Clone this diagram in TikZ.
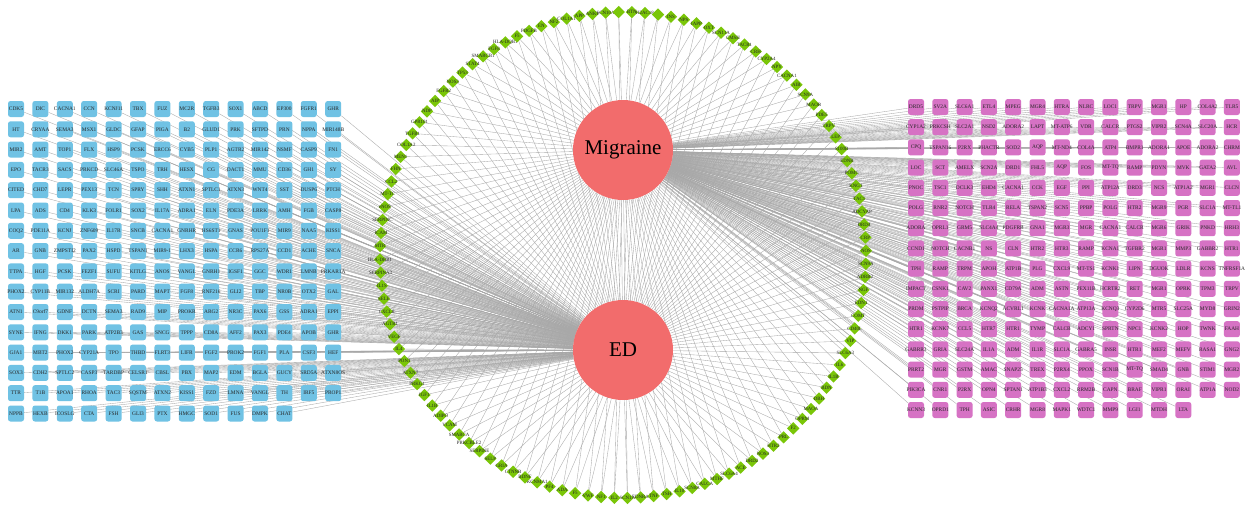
\documentclass[tikz,border=0pt]{standalone}
\usepackage{fontspec}
\setmainfont{Liberation Serif}
\usetikzlibrary{shapes.geometric}
\definecolor{edblue}{RGB}{112,194,228}
\definecolor{migpink}{RGB}{214,114,196}
\definecolor{shgreen}{RGB}{122,198,8}
\definecolor{hubred}{RGB}{242,108,108}
\definecolor{linkgray}{RGB}{168,168,168}
\pgfdeclarelayer{back}
\pgfsetlayers{back,main}
\tikzset{
  gene/.style={rectangle, rounded corners=2.5pt, minimum size=16pt, inner sep=0pt},
  genetxt/.style={font=\fontsize{5.4}{6}\selectfont, text=black!85, inner sep=0pt},
  ringtxt/.style={font=\fontsize{4.9}{5.5}\selectfont, text=black!85, inner sep=0pt},
  shared/.style={diamond, fill=shgreen, minimum size=12.5pt, inner sep=0pt},
  hub/.style={circle, fill=hubred, minimum size=100pt, inner sep=0pt, font=\fontsize{21}{24}\selectfont},
  link/.style={linkgray, line width=0.35pt}
}
\begin{document}
\begin{tikzpicture}[x=1pt, y=-1pt]
  \useasboundingbox (0,0) rectangle (1252,506);
  % the two diseases
  \node[hub] (mig) at (623,150) {Migraine};
  \node[hub] (ed) at (623,350) {ED};
  % ED genes, left block
  \foreach \g [count=\k from 0] in {CDK5,DIC,CACNA1,CCN,KCNJ11,TBX,FUZ,MC2R,TGFB3,SOX1,ABCD,EP300,FGFR1,GHR,
      HT,CRYAA,SEMA3,MSX1,GLDC,GFAP,PIGA,B2,GLUD1,PRK,SFTPD,PRN,NPPA,MIR148B,
      MIR2,AMT,TOP1,FLX,HSP9,PCSK,ERCC6,CYB5,PLP1,AGTR2,MIR142,NSMF,CASP9,FN1,
      EPO,TACR3,SACS,PRKCD,SLC46A,TSPO,TRH,HESX,CG,DACT1,MMU,CD36,GH1,SY,
      CITED,CHD7,LEPR,PEX13,TCN,SPRY,SHH,ATXN1,SPTLC1,ATXN3,WNT4,SST,DUSP6,PTCH,
      LPA,ADS,CD4,KLK3,FOLR1,SOX2,IL17A,ADRA1,ELN,PDE3A,LRRK,AMH,FGB,CASP8,
      COQ2,PDE11A,KCNJ,ZNF609,IL17R,SNCB,CACNA1,GNRHR,HS6ST1,GNAS,POU1F1,MIR9,NAA5,KISS1,
      AR,GNB,ZMPSTI2,PAX2,HSPD,TSPAN1,MIR9-1,LHX3,HSPA,CCR6,RPS27A,CCD1,ACHE,SNCA,
      TTPA,HGF,PCSK,FEZF1,SUFU,KITLG,ANOS,VANGL,GNRH1,IGSF1,GGC,WDR1,LMNB,PRKAR1A,
      PHOX2,CYP11B,MIR132,ALDH7A,SCRI,PARD,MAPT,FGF8,RNF216,GLI2,TBP,NR0B,OTX2,GAL,
      ATN1,C9orf7,GDNF,DCTN,SEMA3,RAD9,MIP,PROKR,ARG2,NR3C,PAX6,GSS,ADRA1,EPPI,
      SYNE,IFNG,DKK1,PARK,ATP2B3,GAS,SNCG,TPPP,CD8A,AFF2,PAX3,PDE4,APOB,GHR,
      GJA1,MBT2,PHOX2,CYP21A,TPO,THBD,FLRT3,LIFR,FGF2,PROK2,FGF1,PLA,CSF3,HEF,
      SOX3,CDH2,SPTLC2,CASP3,TARDBP,CELSR1,CBSL,PBX,MAP2,EDM,BGLA,GUCY,SRD5A,ATXN8OS,
      TTR,T1B,APOA1,RHOA,TAC3,SQSTM,ATXN2,KISS1,FZD,LMNA,VANGL,TH,IRF5,PROP1,
      NPPB,HEXB,ICOSLG,CTA,FSH,GLI3,PTX,HMGC,SOD1,FUS,DMPK,CHAT} {
    \pgfmathtruncatemacro{\c}{mod(\k,14)}
    \pgfmathtruncatemacro{\r}{\k/14}
    \node[gene, fill=edblue, label={[genetxt]center:\g}] (lft\k) at ({16+24.4*\c},{109+20.3*\r}) {};
  }
  % Migraine genes, right block
  \foreach \g [count=\k from 0] in {DRD5,SV2A,SLC6A1,ETL4,MPEG,MGR4,HTRA,NLRC,LOC1,TRPV,MGR1,HP,COL4A2,TLR5,
      CYP1A2,PRKCSH,SLC2A1,NSD2,ADORA2,LAPT,MT-ATP6,VDR,CALCR,PTGS2,VIPR2,SCN4A,SLC20A,HCR,
      CPQ,TSPAN16,P2RX,PHACTR,SOD2,AQP,MT-ND4,COL4A,ATP4,BMPR1,ADORA1,APOE,ADORA2,CHRM,
      LOC,SCT,AMELX,SCN2A,DRD1,FHL5,AQP,FOS,MT-TQ,RAMP,PDYN,MVK,GATA2,AVL,
      PNOC,TSC1,DCLK3,EHD4,CACNA1,CCK,EGF,PPI,ATP12A,DRD3,NCS,ATP1A2,MGR1,CLCN,
      POLG,RNR2,NOTCH,TLR4,RELA,TSPAN2,SCN5,PPBP,POLG,HTR2,MGR9,PGR,SLC1A,MT-TL1,
      ADORA,OPRL1,GRM5,SLC4A4,PDGFRB,GNA1,MGR3,MGR,CACNA1,CALCR,MGR6,GRIK,PNKD,HRH3,
      CCND1,NOTCH,CACNB1,NS,CLN,HTR2,HTR3,RAMP,KCNA1,TGFBR2,MGR1,MMP3,GABBR2,HTR1,
      TPH,RAMP,TRPM,APOH,ATP1B,PLG,CXCL9,MT-TS1,KCNK1,LIPN,DGUOK,LDLR,KCNS,TNFRSF1A,
      IMPACT,CSNK1,CAV2,PANX1,CD79A,ADM,ASTN,PEX11B,HCRTR2,RET,MGR1,OPRK,TPM3,TRPV,
      PRDM,PSTPIP,BRCA,KCNQ2,ACVRL1,KCNK,CACNA1A,ATP13A,KCNQ3,CYP2D6,MTR5,SLC25A,MYD8,GRIN2,
      HTR1,KCNK7,CCL5,HTR7,HTR1,TYMP,CALCB,ADCY1,SPRTN,NPC1,KCNK2,HOP,TWNK,FAAH,
      GABRR3,GRIA,SLC24A,IL1A,ADM,IL1R,SLC1A,GABRA5,INSR,HTR1,MEF2,MEFV,RASA1,GNG2,
      PRRT2,MGR,GSTM,AMAC,SNAP25,TREX,P2RX4,PPOX,SCN1B,MT-TQ,SMAD4,GNB,STIM1,MGR2,
      PIK3CA,CNR1,P2RX,OPN4,SPTAN1,ATP1B3,CXCL2,RRM2B,CAPN,BRAF,VIPR1,ORAI,ATP1A,NOD2,
      KCNN3,OPRD1,TPH,ASIC,CRHR,MGR8,MAPK1,WDTC1,MMP9,LGI1,MTDH,LTA} {
    \pgfmathtruncatemacro{\c}{mod(\k,14)}
    \pgfmathtruncatemacro{\r}{\k/14}
    \node[gene, fill=migpink, label={[genetxt]center:\g}] (rgt\k) at ({916+24.3*\c},{107+20.2*\r}) {};
  }
  % shared genes on the ring, clockwise from the left
  \foreach \g [count=\k from 0] in {MTR,ICAM,SERPINC,eNOS,MT-TC,CCL2,FHN,MEN1,COL1A2,TGFB1,GPR101,NDP,AIP,FGFR2,
      NOS3,TP53,STAT4,SMARCB1,FGF8,HLA-DQB1,F5,PDGFB,EN,NF2,COL1A1,APP,ANK1,SCN10A,{},BTN,H2AC18,{},
      INS,NPS,IAPP,OXT,SCN11A,CMSH,TACR1,CRH,CYP2A4,NPY,CACNA1,AIB,SCN9A,MAOB,PDE5,TRPV,LEP,S100B,
      EDNR,POMC,KNG1,TAC1,ADCYAP,DRD4,CRP,NOS,SCN9A,ADRB2,NGF,EDN1,COMT,CD40L,VIP,SLC6A3,IL6,IL1B,
      BDN,DBH,MAOA,OPRM,F2,PRL,HTR2,NOS3,DRD2,ACE,SLC6A4,MTHF,CALCA,SCN8A,IL10,TSH,TNF,EDNRA,SCN1A,
      IL2,NF1,VWF,F5,ADA,PF4,KCNMA1,BDNF,CTNNB,GRIA,SELP,SERPINE,PRKCBLE2,SMARCA,VCAM,ADIPO,IL1B,
      IGF1,PRKG1,ATXN7,PON1,IL4,VEGF,AGTR1,CXCL8,SELE,IL1S,SERPINA3,HLA-DRB1} {
    \pgfmathsetmacro{\a}{177.9-3.103*\k}
    \node[shared, label={[ringtxt]center:\g}] (shr\k) at ({623+243*cos(\a)},{255-243*sin(\a)}) {};
  }
  % links behind everything
  \begin{pgfonlayer}{back}
    \fill[white] (0,0) rectangle (1252,506);
    \foreach \k in {0,...,115} {
      \draw[link] (shr\k) -- (mig);
      \draw[link] (shr\k) -- (ed);
    }
    \foreach \k in {0,...,221} {
      \draw[link] (lft\k) -- (ed);
      \draw[link] (rgt\k) -- (mig);
    }
  \end{pgfonlayer}
\end{tikzpicture}
\end{document}
